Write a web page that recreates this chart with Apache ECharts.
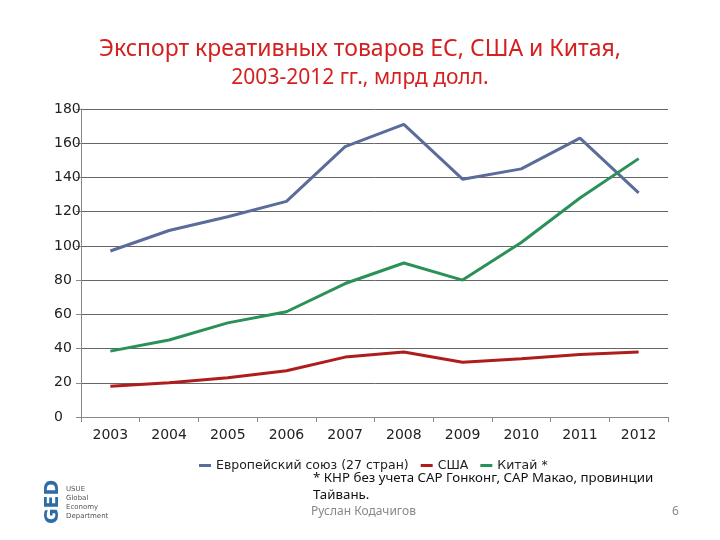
<!DOCTYPE html>
<html>
<head>
    <meta charset="utf-8" />
    <title>Экспорт креативных товаров</title>
    <script src="https://cdn.jsdelivr.net/npm/echarts@6/dist/echarts.min.js"></script>
    <style>
        html, body { margin: 0; padding: 0; background: #fff; }
        #main { width: 720px; height: 540px; }
    </style>
</head>
<body>
    <div id="main"></div>
    <script type="text/javascript">
        var years = ['2003', '2004', '2005', '2006', '2007', '2008', '2009', '2010', '2011', '2012'];
        var euData = [97, 109, 117, 126, 158, 171, 139, 145, 163, 131];
        var usaData = [18, 20, 23, 27, 35, 38, 32, 34, 36.5, 38];
        var chinaData = [38.5, 45, 55, 61.5, 78, 90, 80, 102, 128, 151];

        var chart = echarts.init(document.getElementById('main'));
        var option = {
            backgroundColor: '#fff',
            animation: false,
            title: [{
                text: 'Экспорт креативных товаров ЕС, США и Китая,',
                left: 'center',
                top: 33,
                textStyle: { color: '#d42020', fontSize: 23, fontWeight: 'normal', fontFamily: 'Noto Sans' }
            }, {
                text: '2003-2012 гг., млрд долл.',
                left: 'center',
                top: 63,
                textStyle: { color: '#d42020', fontSize: 21, fontWeight: 'normal', fontFamily: 'Noto Sans' }
            }],
            grid: { left: 81, right: 52, top: 109, bottom: 123, containLabel: false },
            legend: {
                top: 454,
                left: 194,
                itemWidth: 12,
                itemHeight: 3,
                itemGap: 12,
                icon: 'rect',
                textStyle: { fontSize: 12.5, color: '#222', fontFamily: 'DejaVu Sans' },
                data: ['Европейский союз (27 стран)', 'США', 'Китай *']
            },
            xAxis: {
                type: 'category',
                data: years,
                boundaryGap: true,
                axisLine: { lineStyle: { color: '#888', width: 1 } },
                axisTick: { show: true, alignWithLabel: false, length: 5, lineStyle: { color: '#888' } },
                axisLabel: { color: '#222', fontSize: 14, fontFamily: 'DejaVu Sans', margin: 11 }
            },
            yAxis: {
                type: 'value',
                min: 0,
                max: 180,
                interval: 20,
                axisLine: { show: true, lineStyle: { color: '#888', width: 1 } },
                axisTick: { show: true, length: 5, lineStyle: { color: '#888' } },
                axisLabel: { color: '#222', fontSize: 14, fontFamily: 'DejaVu Sans', margin: 27, align: 'left' },
                splitLine: { show: true, lineStyle: { color: '#666', width: 1 } }
            },
            series: [{
                name: 'Европейский союз (27 стран)',
                type: 'line',
                data: euData,
                color: '#5a6c9a',
                symbol: 'none',
                lineStyle: { width: 3, color: '#5a6c9a' }
            }, {
                name: 'США',
                type: 'line',
                data: usaData,
                color: '#b01c1c',
                symbol: 'none',
                lineStyle: { width: 3, color: '#b01c1c' }
            }, {
                name: 'Китай *',
                type: 'line',
                data: chinaData,
                color: '#2a9158',
                symbol: 'none',
                lineStyle: { width: 3, color: '#2a9158' }
            }],
            graphic: [{
                type: 'text',
                left: 313,
                top: 470,
                style: {
                    text: '* КНР без учета САР Гонконг, САР Макао, провинции\nТайвань.',
                    fill: '#111',
                    font: '13.3px "Noto Sans"',
                    lineHeight: 17
                }
            }, {
                type: 'text',
                left: 311,
                top: 506,
                style: { text: 'Руслан Кодачигов', fill: '#888', font: '12px "Noto Sans"' }
            }, {
                type: 'text',
                left: 672,
                top: 506,
                style: { text: '6', fill: '#888', font: '12px "Noto Sans"' }
            }, {
                type: 'text',
                x: 44,
                y: 524,
                rotation: Math.PI / 2,
                style: { text: 'GED', fill: '#2e6da4', font: 'bold 19px "DejaVu Sans"' }
            }, {
                type: 'text',
                left: 66,
                top: 485,
                style: {
                    text: 'USUE\nGlobal\nEconomy\nDepartment',
                    fill: '#555',
                    font: '7px "DejaVu Sans"',
                    lineHeight: 9
                }
            }]
        };
        chart.setOption(option);
    </script>
</body>
</html>
